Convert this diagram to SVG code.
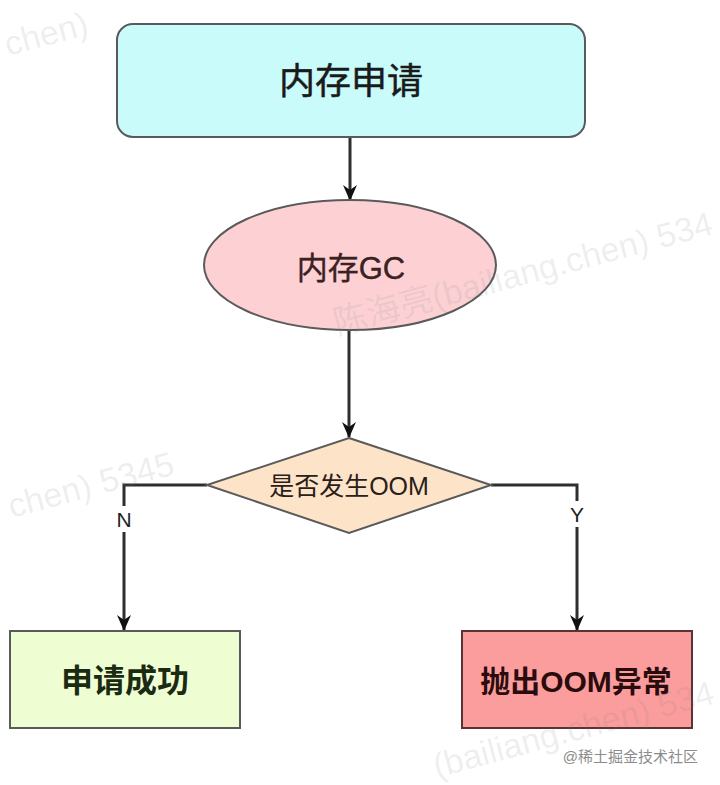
<svg xmlns="http://www.w3.org/2000/svg" width="720" height="785" viewBox="0 0 720 785">
  <style>
    .t { font-family: "Liberation Sans", "Noto Sans CJK SC", sans-serif; text-anchor: middle; dominant-baseline: central; }
    .wm { font-family: "Liberation Sans", "Noto Sans CJK SC", sans-serif; font-size: 34px; fill: #6f7c8c; fill-opacity: 0.13; }
    .edge { fill: none; stroke: #2e2e2e; stroke-width: 3; }
    .node { stroke: #5a5a5a; stroke-width: 2; }
    .lbl { font-family: "Liberation Sans", "Noto Sans CJK SC", sans-serif; font-size: 21px; fill: #222; text-anchor: middle; dominant-baseline: central; }
  </style>
  <defs>
    <marker id="arrow" viewBox="0 0 16 16" markerWidth="16" markerHeight="16" refX="15" refY="8" orient="auto" markerUnits="userSpaceOnUse">
      <path d="M0,1 L16,8 L0,15 L5,8 z" fill="#111"/>
    </marker>
  </defs>
  <rect x="0" y="0" width="720" height="785" fill="#ffffff"/>

  <g id="connectors">
    <path class="edge" d="M350,137 V200" marker-end="url(#arrow)"/>
    <path class="edge" d="M349,330 V437" marker-end="url(#arrow)"/>
    <path class="edge" d="M207,485 H124 V630" marker-end="url(#arrow)"/>
    <path class="edge" d="M491,485 H577 V630" marker-end="url(#arrow)"/>
    <rect x="113" y="506" width="22" height="26" fill="#ffffff"/>
    <text class="lbl" x="124" y="519">N</text>
    <rect x="566" y="501" width="22" height="26" fill="#ffffff"/>
    <text class="lbl" x="577" y="514">Y</text>
  </g>

  <g id="n-request">
    <rect class="node" x="117" y="24" width="468" height="113" rx="16" ry="16" fill="#c8fbf9"/>
    <text class="t" x="351" y="81" font-size="36" fill="#1a1a1a" stroke="#1a1a1a" stroke-width="0.5">内存申请</text>
  </g>

  <g id="n-gc">
    <ellipse class="node" cx="350" cy="265" rx="146" ry="65" fill="#fdd1d4"/>
    <text class="t" x="351" y="268" font-size="31" fill="#3a2222" stroke="#3a2222" stroke-width="0.4">内存GC</text>
  </g>

  <g id="n-decision">
    <polygon class="node" points="349,438 491,485 349,533 207,485" fill="#fde4c9"/>
    <text class="t" x="349" y="486" font-size="25" fill="#2a2018">是否发生OOM</text>
  </g>

  <g id="n-success">
    <rect class="node" x="10" y="631" width="230" height="97" fill="#effdd2"/>
    <text class="t" x="125" y="681" font-size="32" font-weight="bold" fill="#1b2a12">申请成功</text>
  </g>

  <g id="n-oom">
    <rect x="462" y="631" width="230" height="97" fill="#fc9d9d" stroke="#5a3434" stroke-width="2"/>
    <text class="t" x="576" y="681" font-size="30" font-weight="bold" fill="#2a0c0c">抛出OOM异常</text>
  </g>

  <text x="698" y="756" font-family="Liberation Sans, Noto Sans CJK SC, sans-serif" font-size="15" fill="#8c8c8c" text-anchor="end" dominant-baseline="central">@稀土掘金技术社区</text>

  <g id="watermarks">
    <text class="wm" transform="translate(8,56) rotate(-15)">chen)</text>
    <text class="wm" transform="translate(176,474) rotate(-15)" text-anchor="end">chen) 5345</text>
    <text class="wm" transform="translate(337,335) rotate(-15)">陈海亮(bailiang.chen) 534</text>
    <text class="wm" transform="translate(716,703) rotate(-15)" text-anchor="end">(bailiang.chen) 534</text>
  </g>
</svg>
